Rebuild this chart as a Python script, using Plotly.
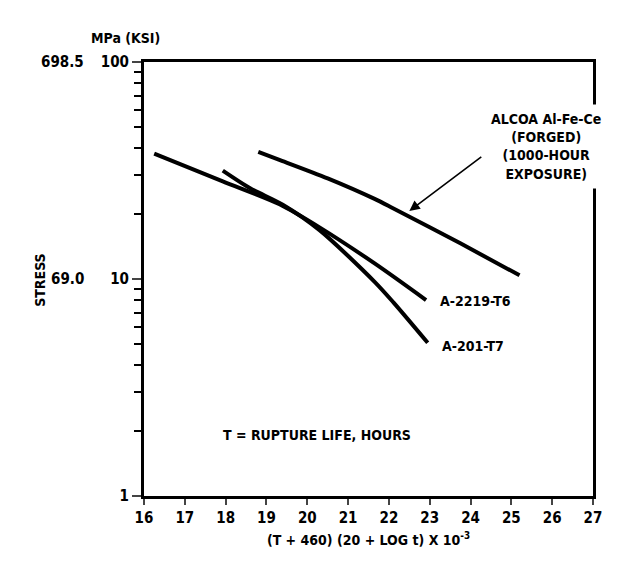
import numpy as np
import plotly.graph_objects as go

# curves (x = larson-miller parameter / 1000, y = stress in ksi)
alcoa_x = [18.8, 19.3, 20.5, 21.65, 22.1, 23.75, 25.2]
alcoa_y = [38.5, 35.5, 29.1, 23.4, 21.2, 14.6, 10.4]

a2219_x = [16.25, 17.93, 19.32, 20.3, 21.65, 22.91]
a2219_y = [37.8, 28.2, 22.1, 17.3, 11.8, 8.0]

a201_x = [17.93, 18.6, 19.4, 20.3, 21.65, 22.11, 22.95]
a201_y = [31.6, 26.2, 22.0, 16.8, 9.7, 7.8, 5.08]

ksi_ticks = [1, 10, 100]
ksi_labels = ["1", "10", "100"]
mpa_labels = ["", "69.0", "698.5"]
minor_ticks = [2, 3, 4, 5, 6, 7, 8, 9, 20, 30, 40, 50, 60, 70, 80, 90]
x_ticks = list(range(16, 28))

FONT = "DejaVu Sans Condensed, Liberation Sans Narrow, sans-serif"
txt = dict(family=FONT, size=14, color="black", weight="bold")
tick_txt = dict(family=FONT, size=15, color="black", weight="bold")

fig = go.Figure()
for xs, ys in [(alcoa_x, alcoa_y), (a2219_x, a2219_y), (a201_x, a201_y)]:
    fig.add_trace(go.Scatter(x=xs, y=ys, mode="lines",
                             line=dict(color="black", width=4, shape="spline", smoothing=0.8),
                             showlegend=False, hoverinfo="skip"))

# curve labels (log axis -> annotation y in log10)
fig.add_annotation(x=23.2, y=np.log10(a2219_y[-1]) - 0.005, text="A-2219-T6", showarrow=False,
                   xanchor="left", font=txt)
fig.add_annotation(x=23.24, y=0.69, text="A-201-T7", showarrow=False,
                   xanchor="left", font=txt)
fig.add_annotation(x=25.85, y=1.61,
                   text="ALCOA Al-Fe-Ce<br>(FORGED)<br>(1000-HOUR<br>EXPOSURE)",
                   showarrow=False, font=txt, bgcolor="white", borderpad=6, align="center")
fig.add_annotation(x=22.5, y=np.log10(20.6), ax=24.3, ay=np.log10(37.0), axref="x", ayref="y",
                   text="", showarrow=True, arrowhead=2, arrowsize=1.3, arrowwidth=1.6,
                   arrowcolor="black")
fig.add_annotation(x=20.25, y=0.28, text="T = RUPTURE LIFE, HOURS", showarrow=False, font=txt)

# MPa labels on the left
for v, lab in zip(ksi_ticks, mpa_labels):
    if lab:
        fig.add_annotation(xref="paper", x=-0.129, y=np.log10(v), text=lab, showarrow=False,
                           xanchor="right", font=tick_txt)
fig.add_annotation(xref="paper", yref="paper", x=-0.122, y=1.078, text="MPa (KSI)",
                   showarrow=False, font=txt)
fig.add_annotation(xref="paper", yref="paper", x=-0.254, y=0.498, text="STRESS", textangle=-90,
                   showarrow=False, font=txt)

fig.update_xaxes(range=[16, 27], tickvals=x_ticks, ticks="outside", ticklen=6, tickwidth=2,
                 showline=True, linewidth=3, linecolor="black", mirror=True, showgrid=False,
                 zeroline=False, tickfont=tick_txt,
                 title=dict(text="(T + 460) (20 + LOG t) X 10<sup>-3</sup>", font=txt, standoff=10))
fig.update_yaxes(type="log", range=[0, 2], tickvals=ksi_ticks, ticktext=ksi_labels,
                 ticks="outside", ticklen=9, tickwidth=2, showline=True, linewidth=3,
                 linecolor="black", mirror=True, showgrid=False, zeroline=False, tickfont=tick_txt,
                 minor=dict(tickvals=minor_ticks, ticks="outside", ticklen=7, tickwidth=2,
                            tickcolor="black", showgrid=False))

fig.update_layout(width=620, height=564, margin=dict(l=136, r=35, t=54, b=76),
                  plot_bgcolor="white", paper_bgcolor="white", font=txt)

fig.write_html("out.html")
